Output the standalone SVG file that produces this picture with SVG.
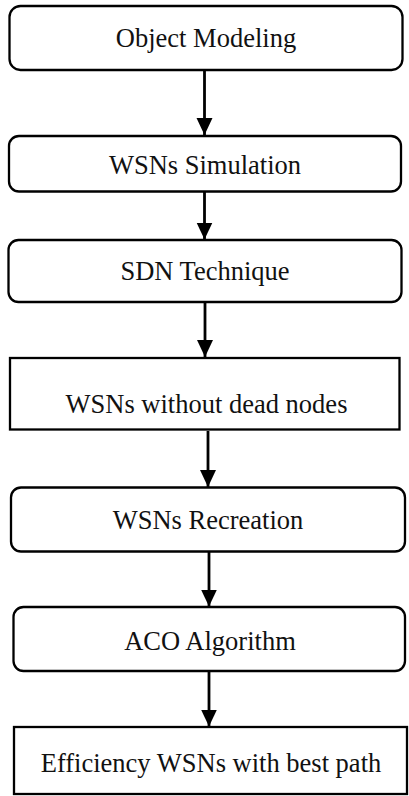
<svg xmlns="http://www.w3.org/2000/svg" width="409" height="796" viewBox="0 0 409 796">
<style>
.box{fill:#fff;stroke:#000;stroke-width:2.3}
.lbl{font-family:"Liberation Serif","Times New Roman",serif;font-size:26.5px;fill:#111;text-anchor:middle}
.conn{stroke:#000;stroke-width:2.8;fill:none}
</style>
<defs>
<marker id="ah" markerUnits="userSpaceOnUse" markerWidth="18" markerHeight="18" viewBox="0 0 18 18" refX="17" refY="9" orient="auto">
<polygon points="0,1 17,9 0,17" fill="#000"/>
</marker>
</defs>
<rect width="409" height="796" fill="#fff"/>
<g id="connectors">
<line class="conn" x1="204.5" y1="70" x2="204.5" y2="135" marker-end="url(#ah)"/>
<line class="conn" x1="204.5" y1="192" x2="204.5" y2="239.5" marker-end="url(#ah)"/>
<line class="conn" x1="205" y1="302" x2="205" y2="357" marker-end="url(#ah)"/>
<line class="conn" x1="208" y1="431" x2="208" y2="487" marker-end="url(#ah)"/>
<line class="conn" x1="209" y1="552" x2="209" y2="606.5" marker-end="url(#ah)"/>
<line class="conn" x1="209" y1="671" x2="209" y2="726.5" marker-end="url(#ah)"/>
</g>
<g id="n1"><rect class="box" x="9.5" y="6" width="393" height="64" rx="11"/><text class="lbl" x="206" y="47">Object Modeling</text></g>
<g id="n2"><rect class="box" x="9" y="136" width="392" height="55.5" rx="10"/><text class="lbl" x="205" y="174">WSNs Simulation</text></g>
<g id="n3"><rect class="box" x="8.5" y="240" width="393" height="62" rx="10"/><text class="lbl" x="205" y="280">SDN Technique</text></g>
<g id="n4"><rect class="box" x="10" y="358" width="389.5" height="71.5"/><text class="lbl" x="206.5" y="412.5">WSNs without dead nodes</text></g>
<g id="n5"><rect class="box" x="11" y="487.5" width="394" height="64" rx="10"/><text class="lbl" x="208" y="529">WSNs Recreation</text></g>
<g id="n6"><rect class="box" x="13.5" y="607" width="391.5" height="64" rx="10"/><text class="lbl" x="210" y="650">ACO Algorithm</text></g>
<g id="n7"><rect class="box" x="14" y="727" width="393" height="67"/><text class="lbl" x="211" y="771.5">Efficiency WSNs with best path</text></g>
</svg>
